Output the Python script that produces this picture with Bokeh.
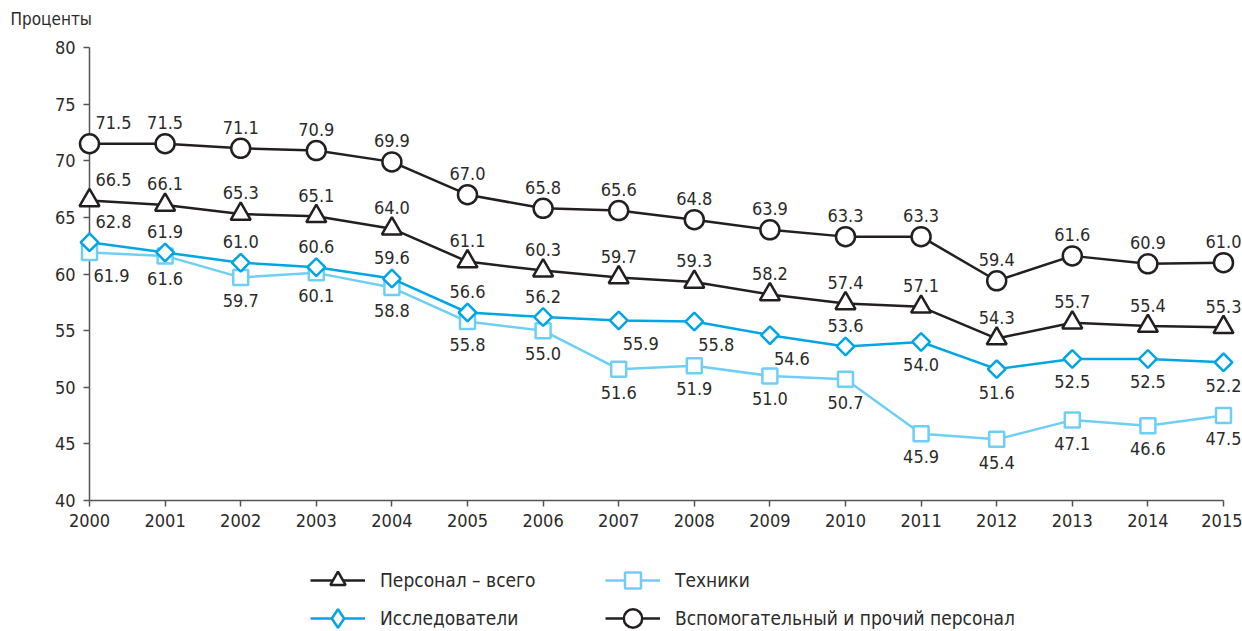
from bokeh.plotting import figure
from bokeh.layouts import column
from bokeh.models import (ColumnDataSource, FixedTicker, Legend, LegendItem,
                          Range1d)
from bokeh.embed import file_html
from bokeh.resources import INLINE
from bokeh.core.properties import value
import numpy as np

# ---------------- data ----------------
years = list(range(2000, 2016))
personnel_total = [66.5, 66.1, 65.3, 65.1, 64.0, 61.1, 60.3, 59.7, 59.3, 58.2,
                   57.4, 57.1, 54.3, 55.7, 55.4, 55.3]
researchers = [62.8, 61.9, 61.0, 60.6, 59.6, 56.6, 56.2, 55.9, 55.8, 54.6,
               53.6, 54.0, 51.6, 52.5, 52.5, 52.2]
technicians = [61.9, 61.6, 59.7, 60.1, 58.8, 55.8, 55.0, 51.6, 51.9, 51.0,
               50.7, 45.9, 45.4, 47.1, 46.6, 47.5]
support_other = [71.5, 71.5, 71.1, 70.9, 69.9, 67.0, 65.8, 65.6, 64.8, 63.9,
                 63.3, 63.3, 59.4, 61.6, 60.9, 61.0]
y_ticks = [40, 45, 50, 55, 60, 65, 70, 75, 80]
series_names = ["Персонал – всего", "Исследователи", "Техники",
                "Вспомогательный и прочий персонал"]
y_title = "Проценты"

# label placement codes (style, not data)
pos_total = ["ar"] + ["a"] * 15
pos_support = ["ar"] + ["a"] * 15
pos_research = ["ar", "a", "a", "a", "a", "a", "a", "br", "br", "br",
                "a", "b", "b", "b", "b", "b"]
pos_tech = ["br"] + ["b"] * 15
OFFS = {"a": (0, -21), "b": (0, 23), "ar": (24, -21), "br": (22, 23)}

FONT = "DejaVu Sans Condensed"
TXT = "#2b2b2b"
BLACK = "#231f20"
BLUE = "#00a6e4"
LBLUE = "#6dcff6"

W = 1242
H_MAIN, H_LEG = 545, 86

# ---------------- main chart ----------------
p = figure(width=W, height=H_MAIN, output_backend="svg", toolbar_location=None,
           x_range=Range1d(2000, 2015), y_range=Range1d(40, 80),
           min_border_left=89, min_border_right=19, min_border_top=47,
           min_border_bottom=45)
p.outline_line_color = None
p.grid.visible = False
p.background_fill_color = "white"
p.border_fill_color = "white"

for ax in (p.xaxis[0], p.yaxis[0]):
    ax.axis_line_color = "#555555"
    ax.axis_line_width = 1.5
    ax.major_tick_line_color = "#555555"
    ax.major_tick_line_width = 1.5
    ax.major_tick_in = 0
    ax.major_tick_out = 6
    ax.minor_tick_line_color = None
    ax.major_label_text_font = FONT
    ax.major_label_text_font_size = "18px"
    ax.major_label_text_color = TXT
p.xaxis.ticker = FixedTicker(ticks=years)
p.yaxis.ticker = FixedTicker(ticks=y_ticks)
p.xaxis.major_label_standoff = 7
p.yaxis.major_label_standoff = 8

# unit caption, anchored to the top-left corner of the axes
p.text(x=[years[0]], y=[y_ticks[-1]], text=[y_title], x_offset=-79,
       y_offset=-29, text_align="left", text_baseline="middle",
       text_font=value(FONT), text_font_size="17px", text_color=TXT,
       level="overlay")

# ---------------- legend strip ----------------
pl = figure(width=W, height=H_LEG, output_backend="svg", toolbar_location=None,
            x_range=Range1d(0, 1), y_range=Range1d(0, 1),
            min_border_left=0, min_border_right=0, min_border_top=0,
            min_border_bottom=0)
pl.xaxis.visible = False
pl.yaxis.visible = False
pl.grid.visible = False
pl.outline_line_color = None
pl.background_fill_color = "white"
pl.border_fill_color = "white"


def add_series(vals, pos, color, marker, size, angle=0.0, leg_marker=None):
    offs = [OFFS[c] for c in pos]
    src = ColumnDataSource(dict(
        x=years, y=vals, t=[f"{v:.1f}" for v in vals],
        dx=[o[0] for o in offs], dy=[o[1] for o in offs]))
    p.line("x", "y", source=src, line_color=color, line_width=2.5,
           level="overlay")
    p.scatter("x", "y", source=src, marker=marker, size=size,
              angle=angle, fill_color="white", line_color=color,
              line_width=2.5, level="overlay")
    p.text("x", "y", text="t", source=src, x_offset="dx", y_offset="dy",
           text_align="center", text_baseline="middle",
           text_font=value(FONT), text_font_size="18px", text_color=TXT,
           level="overlay")
    # same series in the legend strip (outside its visible range)
    ln = pl.line("x", "y", source=src, line_color=color, line_width=2.5)
    sc = pl.scatter("x", "y", source=src, marker=leg_marker or marker,
                    size=size, fill_color="white", line_color=color,
                    line_width=2.5)
    return [ln, sc]


r_tech = add_series(technicians, pos_tech, LBLUE, "square", 15)
r_res = add_series(researchers, pos_research, BLUE, "square", 12.5, np.pi / 4,
                   leg_marker="diamond")
r_tot = add_series(personnel_total, pos_total, BLACK, "triangle", 20)
r_sup = add_series(support_other, pos_support, BLACK, "circle", 19)


def add_legend(name, renderers, vx, vy, gh):
    lg = Legend(items=[LegendItem(label=name, renderers=renderers)],
                location=(vx, vy), orientation="vertical",
                glyph_width=55, glyph_height=gh, label_standoff=15,
                padding=0, margin=0, spacing=0,
                border_line_color=None, background_fill_alpha=0,
                label_text_font=FONT, label_text_font_size="19px",
                label_text_color=TXT)
    pl.add_layout(lg, "center")


add_legend(series_names[0], r_tot, 221, 32, 38)
add_legend(series_names[1], r_res, 221, -10, 46)
add_legend(series_names[2], r_tech, 516, 31, 40)
add_legend(series_names[3], r_sup, 516, -10, 46)

layout = column(p, pl, spacing=0)
open("out.html", "w").write(file_html(layout, INLINE))
